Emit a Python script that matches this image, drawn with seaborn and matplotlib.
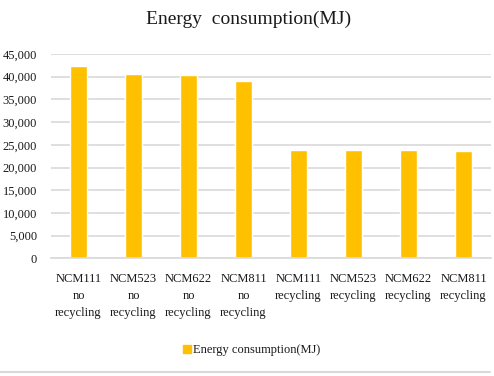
import matplotlib
matplotlib.use("Agg")
import matplotlib.pyplot as plt
import seaborn as sns
import pandas as pd
from matplotlib.lines import Line2D
from matplotlib.ticker import FuncFormatter

categories = [
    "NCM111\nno\nrecycling", "NCM523\nno\nrecycling", "NCM622\nno\nrecycling", "NCM811\nno\nrecycling",
    "NCM111\nrecycling", "NCM523\nrecycling", "NCM622\nrecycling", "NCM811\nrecycling",
]
values = [42400, 40600, 40300, 39100, 23900, 23900, 23900, 23700]
series_name = "Energy consumption(MJ)"
title = "Energy  consumption(MJ)"

sns.set_theme(style="white")
plt.rcParams["font.family"] = ["Liberation Serif", "DejaVu Serif"]

df = pd.DataFrame({"cat": categories, "val": values, "series": series_name})

fig = plt.figure(figsize=(4.94, 3.76), dpi=100)
ax = fig.add_axes([51 / 494, 1 - 258.3 / 376, 440 / 494, (258.3 - 54) / 376])

sns.barplot(data=df, x="cat", y="val", hue="series", palette=["#FFC000"],
            width=0.31, saturation=1, ax=ax, legend=True)

ax.set_ylim(0, 45000)
ax.set_yticks(range(0, 45001, 5000))
ax.yaxis.set_major_formatter(FuncFormatter(lambda v, p: f"{int(v):,}"))
ax.grid(axis="y", color="#d9d9d9", linewidth=1.2)
ax.set_axisbelow(True)
for s in ["left", "right", "top"]:
    ax.spines[s].set_visible(False)
ax.spines["bottom"].set_color("#d9d9d9")
ax.spines["bottom"].set_linewidth(1.2)
ax.set_xlabel("")
ax.set_ylabel("")
ax.tick_params(axis="y", length=0, pad=10, labelsize=9, labelcolor="#1a1a1a")
ax.tick_params(axis="x", length=0, pad=10.5, labelsize=9, labelcolor="#1a1a1a")
for lbl in ax.get_xticklabels():
    lbl.set_linespacing(1.55)
    lbl.set_multialignment("center")
    lbl.set_verticalalignment("top")

leg = ax.get_legend()
leg.remove()
handles = [plt.Rectangle((0, 0), 1, 1, color="#FFC000")]
fig.legend(handles, [series_name], loc="center", bbox_to_anchor=(252 / 494, 1 - 350 / 376),
           frameon=False, fontsize=9, handlelength=0.6, handleheight=0.6, handletextpad=0.2,
           labelcolor="#1a1a1a")

fig.text(249 / 494, 1 - 19 / 376, title, ha="center", va="center", fontsize=14, color="#1a1a1a")

fig.add_artist(Line2D([0, 490 / 494], [1 - 372 / 376, 1 - 372 / 376], color="#d9d9d9",
                      linewidth=1.5, transform=fig.transFigure))

fig.savefig("out.png", dpi=100, facecolor="white")
